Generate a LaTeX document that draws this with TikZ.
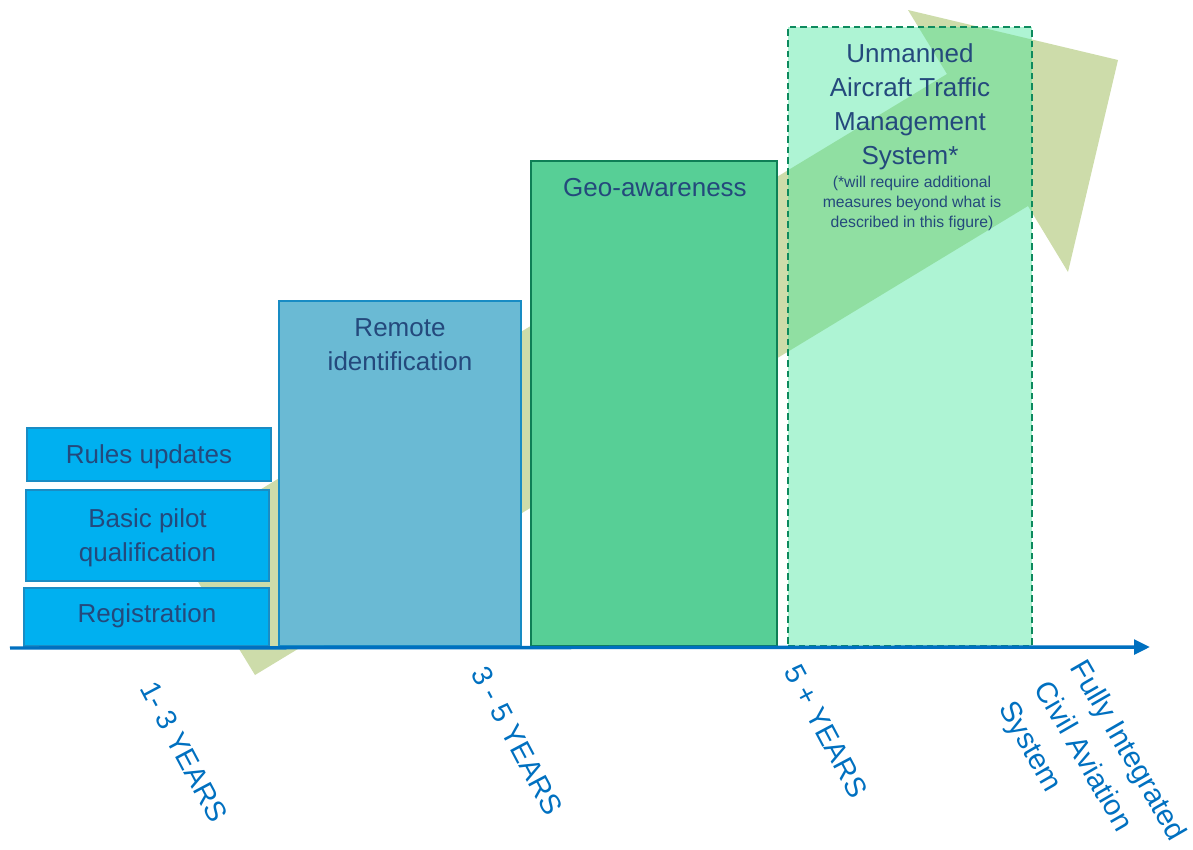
\documentclass[tikz,border=0pt]{standalone}
\usepackage{fontspec}
\setmainfont{Liberation Sans}
\usetikzlibrary{arrows.meta}
\definecolor{arrowgreen}{RGB}{205,220,170}
\definecolor{skyfill}{RGB}{0,176,240}
\definecolor{skyline}{RGB}{26,140,196}
\definecolor{remfill}{RGB}{106,186,212}
\definecolor{remline}{RGB}{24,140,196}
\definecolor{geofill}{RGB}{87,207,150}
\definecolor{geoline}{RGB}{14,127,86}
\definecolor{utmfill}{RGB}{62,228,152}
\definecolor{utmline}{RGB}{14,138,94}
\definecolor{txtblue}{RGB}{36,73,124}
\definecolor{axisblue}{RGB}{0,112,192}
\begin{document}
\begin{tikzpicture}[x=0.75pt,y=-0.75pt,
  box/.style={rectangle, inner sep=0pt, line width=1.1pt},
  skybox/.style={box, fill=skyfill, draw=skyline},
  bigtxt/.style={text=txtblue, align=center, inner sep=0pt,
    font=\fontsize{19.5}{25.5}\selectfont},
  notetxt/.style={text=txtblue, align=center, inner sep=0pt,
    font=\fontsize{11.8}{15}\selectfont},
  axistxt/.style={text=axisblue, inner sep=0pt, rotate=-62,
    font=\fontsize{21.5}{31}\selectfont},
  axisline/.style={draw=axisblue, line width=2.6pt,
    -{Triangle[length=12pt,width=11pt]}}]
\useasboundingbox (0,0) rectangle (1193,850);
% big progress arrow
\fill[arrowgreen] (255,675) -- (173.7,542) -- (947,74) -- (908,10)
  -- (1118,60) -- (1068,272) -- (1028,206) -- cycle;
% small boxes
\node[skybox, minimum width=183pt, minimum height=39.75pt] (rules) at (149,454.5) {};
\node[skybox, minimum width=182.25pt, minimum height=68.25pt] (pilot) at (147.5,535.5) {};
\node[skybox, minimum width=183.75pt, minimum height=43.5pt] (reg) at (146.5,617) {};
\node[bigtxt] (rulest) at (149,457) {Rules updates};
\node[bigtxt] (pilott) at (147.5,538) {Basic pilot\\qualification};
\node[bigtxt] (regt) at (147,615.5) {Registration};
% remote identification
\node[box, fill=remfill, draw=remline, minimum width=181.5pt, minimum height=258.75pt] (remote) at (400,473.5) {};
\node[bigtxt] (remotet) at (400,345) {Remote\\identification};
% geo-awareness
\node[box, fill=geofill, draw=geoline, minimum width=184.5pt, minimum height=363.75pt] (geo) at (654,403.5) {};
\node[bigtxt] (geot) at (655,188) {Geo-awareness};
% UTM
\node[box, fill=utmfill, fill opacity=0.42, draw=utmline, dashed, dash pattern=on 5pt off 3pt, minimum width=183pt, minimum height=464.25pt] (utm) at (910,336.5) {};
\node[bigtxt] (utmt) at (910,106.5) {Unmanned\\Aircraft Traffic\\Management\\System*};
\node[notetxt] (notet) at (912,203) {(*will require additional\\measures beyond what is\\described in this figure)};
% axis
\coordinate (axstart) at (10,648);
\coordinate (axend) at (1150,647);
\draw[axisline] (axstart) -- (axend);
% axis labels
\node[axistxt] (l1) at (184,752) {1- 3 YEARS};
\node[axistxt] (l2) at (517,741) {3 - 5 YEARS};
\node[axistxt] (l3) at (826,731) {5 + YEARS};
\node[axistxt, rotate=2, align=left, font=\fontsize{22}{31}\selectfont] (l4) at (1091,772) {Fully Integrated\\Civil Aviation\\System};
\end{tikzpicture}
\end{document}
